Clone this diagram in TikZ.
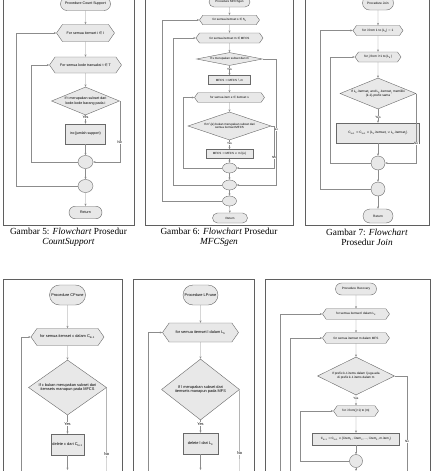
\documentclass[tikz,border=0pt]{standalone}
\usepackage{fontspec}
\setmainfont{Liberation Serif}
\newfontfamily\arialf{Liberation Sans}
\newfontfamily\symf{DejaVu Sans}
\usetikzlibrary{shapes.geometric,shapes.misc,shapes.symbols,arrows.meta}
\definecolor{fcfill}{RGB}{232,232,232}
\definecolor{fcdraw}{RGB}{105,105,105}
\definecolor{fcline}{RGB}{140,140,140}
\definecolor{frmcol}{RGB}{95,95,95}
\newcommand{\fsA}{\arialf\fontsize{3.6}{4.3}\selectfont}
\newcommand{\fsB}{\arialf\fontsize{3.0}{3.6}\selectfont}
\newcommand{\fsC}{\arialf\fontsize{3.2}{3.9}\selectfont}
\newcommand{\fsD}{\arialf\fontsize{3.9}{4.7}\selectfont}
\newcommand{\fsF}{\arialf\fontsize{3.1}{3.8}\selectfont}
\newcommand{\sy}[1]{{\symf #1}}
\newcommand{\sub}[1]{\textsubscript{#1}}
\begin{document}
\begin{tikzpicture}[x=1pt,y=-1pt,
    term/.style={draw=fcdraw, fill=fcfill, rounded rectangle, inner sep=0.5pt, line width=0.4pt},
    hexa/.style={draw=fcdraw, fill=fcfill, signal, signal to=east and west, signal pointer angle=110, inner sep=0.5pt, line width=0.4pt},
    dec/.style={draw=fcdraw, fill=fcfill, diamond, inner sep=0pt, align=center, line width=0.4pt},
    proc/.style={draw=fcdraw, fill=fcfill, rectangle, inner sep=0.5pt, line width=0.4pt},
    conn/.style={draw=fcdraw, fill=fcfill, ellipse, inner sep=0pt, line width=0.4pt},
    lbl/.style={fill=white, inner sep=0.3pt},
    arr/.style={draw=fcline, line width=0.4pt, -{Stealth[length=2.4pt,width=2pt]}},
    ln/.style={draw=fcline, line width=0.4pt},
    frm/.style={draw=frmcol, line width=0.6pt},
    captxt/.style={align=center, font=\fontsize{9.3}{10}\selectfont, inner sep=0pt}]
\useasboundingbox (0,0) rectangle (432,471);
\clip (0,0) rectangle (432,471);
\fill[white] (0,0) rectangle (432,471);

% frames
\draw[frm] (3,-5) rectangle (134,225);
\draw[frm] (145,-5) rectangle (293,225);
\draw[frm] (305,-5) rectangle (429,225);
\draw[frm] (3,279) rectangle (122,480);
\draw[frm] (133,279) rectangle (254,480);
\draw[frm] (265,279) rectangle (430,480);

% captions
\node[captxt] (capA) at (68.5,237) {Gambar 5: \textit{Flowchart} Prosedur\\\textit{CountSupport}};
\node[captxt] (capB) at (219,237) {Gambar 6: \textit{Flowchart} Prosedur\\\textit{MFCSgen}};
\node[captxt] (capC) at (367,237) {Gambar 7: \textit{Flowchart}\\Prosedur \textit{Join}};

% Gambar 5: CountSupport
\begin{scope}[font=\fsA]
\node[term, minimum width=51, minimum height=13] (tA) at (85.5,4) {Procedure Count Support};
\node[hexa, minimum width=58, minimum height=17] (hA1) at (85.5,33) {For semua itemset i \sy{∈} I};
\node[hexa, minimum width=72, minimum height=16] (hA2) at (85.5,65) {For semua kode transaksi t \sy{∈} T};
\node[dec, minimum width=68, minimum height=28, aspect=2.4] (dA) at (85.5,101) {If t merupakan subset dari\\kode-kode barang pada i};
\node[proc, minimum width=40, minimum height=20] (bA) at (85.5,134) {inc(jumlah support)};
\node[conn, minimum width=15, minimum height=13] (cA1) at (85.5,162) {};
\node[conn, minimum width=15, minimum height=13] (cA2) at (85.5,186) {};
\node[term, minimum width=34, minimum height=12.5] (rA) at (85.5,212.5) {Return};
\coordinate (lA1) at (31,65);
\coordinate (lA2) at (16,33);
\draw[arr] (tA) -- (hA1);
\draw[arr] (hA1) -- (hA2);
\draw[arr] (hA2) -- (dA);
\draw[arr] (dA) -- (bA) node[lbl, pos=0.25] (yA) {Yes};
\draw[arr] (bA) -- (cA1);
\draw[arr] (cA1) -- (cA2);
\draw[arr] (cA2) -- (rA);
\draw[arr] (dA.east) |- (cA1.east) node[lbl, pos=0.34] (nA) {No};
\draw[arr] (cA1.west) -| (lA1) -- (hA2.west);
\draw[arr] (cA2.west) -| (lA2) -- (hA1.west);
\end{scope}

% Gambar 6: MFCSgen
\begin{scope}[font=\fsB]
\node[term, minimum width=42, minimum height=10] (tB) at (229.5,2) {Procedure MFCSgen};
\node[hexa, minimum width=60, minimum height=9.5] (hB1) at (229.5,20) {for semua itemset s \sy{∈} S\sub{k}};
\node[hexa, minimum width=67, minimum height=10] (hB2) at (229.5,38) {for semua itemset m \sy{∈} MFCS};
\node[dec, minimum width=66, minimum height=13, aspect=5] (dB1) at (229.5,59) {If s merupakan subset dari m};
\node[proc, minimum width=42, minimum height=9] (bB1) at (229.5,80) {MFCS := MFCS \sy{∖} m};
\node[hexa, minimum width=70, minimum height=9.5] (hB3) at (229.5,97.5) {for semua item e \sy{∈} itemset s};
\node[dec, minimum width=83, minimum height=28, aspect=3] (dB2) at (229.5,126) {If m\sy{∖}\{e\} bukan merupakan subset dari\\semua itemset MFCS};
\node[proc, minimum width=47, minimum height=9] (bB2) at (229.5,154) {MFCS := MFCS \sy{∪} m\sy{∖}\{e\}};
\node[conn, minimum width=14, minimum height=10] (cB1) at (229.5,168) {};
\node[conn, minimum width=14, minimum height=10] (cB2) at (229.5,185) {};
\node[conn, minimum width=14, minimum height=10] (cB3) at (229.5,201) {};
\node[term, minimum width=36, minimum height=10] (rB) at (230,218) {Return};
\coordinate (lB1) at (162,20);
\coordinate (lB2) at (173,38);
\coordinate (lB3) at (183,97.5);
\coordinate (nB1) at (276,59);
\coordinate (nB2) at (274,126);
\draw[arr] (tB) -- (hB1);
\draw[arr] (hB1) -- (hB2);
\draw[arr] (hB2) -- (dB1);
\draw[arr] (dB1) -- (bB1) node[lbl, pos=0.35] (yB1) {Yes};
\draw[arr] (bB1) -- (hB3);
\draw[arr] (hB3) -- (dB2);
\draw[arr] (dB2) -- (bB2) node[lbl, pos=0.4] (yB2) {Yes};
\draw[arr] (bB2) -- (cB1);
\draw[arr] (cB1) -- (cB2);
\draw[arr] (cB2) -- (cB3);
\draw[arr] (cB3) -- (rB);
\draw[arr] (dB1.east) -- (nB1) |- (cB2.east) node[lbl, pos=0.28] (nB1t) {No};
\draw[arr] (dB2.east) -- (nB2) |- (cB1.east) node[lbl, pos=0.38] (nB2t) {No};
\draw[arr] (cB1.west) -| (lB3) -- (hB3.west);
\draw[arr] (cB2.west) -| (lB2) -- (hB2.west);
\draw[arr] (cB3.west) -| (lB1) -- (hB1.west);
\end{scope}

% Gambar 7: Join
\begin{scope}[font=\fsC]
\node[term, minimum width=32, minimum height=14] (tC) at (378,3) {Procedure Join};
\node[hexa, minimum width=50, minimum height=10] (hC1) at (378,30.5) {for i from 1 to |L\sub{k}| \sy{−} 1};
\node[hexa, minimum width=46, minimum height=10] (hC2) at (378,57) {for j from i+1 to |L\sub{k}|};
\node[dec, minimum width=76, minimum height=31, aspect=2.45] (dC) at (378,93.5) {If L\sub{k}.itemset\sub{i} and L\sub{k}.itemset\sub{j} memiliki\\(k-1)-prefix sama};
\node[proc, minimum width=83, minimum height=20] (bC) at (378,133) {C\sub{k+1} := C\sub{k+1} \sy{∪} \{L\sub{k}.itemset\sub{i} \sy{∪} L\sub{k}.itemset\sub{j}\}};
\node[conn, minimum width=14, minimum height=14] (cC1) at (378,163) {};
\node[conn, minimum width=14, minimum height=14] (cC2) at (378,189) {};
\node[term, minimum width=31, minimum height=14] (rC) at (378,216) {Return};
\coordinate (lC1) at (320,30.5);
\coordinate (lC2) at (330,57);
\draw[arr] (tC) -- (hC1);
\draw[arr] (hC1) -- (hC2);
\draw[arr] (hC2) -- (dC);
\draw[arr] (dC) -- (bC) node[lbl, pos=0.57] (yC) {Yes};
\draw[arr] (bC) -- (cC1);
\draw[arr] (cC1) -- (cC2);
\draw[arr] (cC2) -- (rC);
\draw[arr] (dC.east) |- (cC1.east) node[lbl, pos=0.36] (nC) {No};
\draw[arr] (cC1.west) -| (lC2) -- (hC2.west);
\draw[arr] (cC2.west) -| (lC1) -- (hC1.west);
\end{scope}

% CPrune
\begin{scope}[font=\fsD]
\node[term, minimum width=37, minimum height=20] (tD) at (67.5,295) {Procedure CPrune};
\node[hexa, minimum width=73, minimum height=17] (hD) at (67.5,337) {for semua itemset c dalam C\sub{k+1}};
\node[dec, minimum width=78, minimum height=55, aspect=1.4] (dD) at (67.5,387.5) {If c bukan merupakan subset dari\\itemsets manapun pada MFCS};
\node[proc, minimum width=33, minimum height=21] (bD) at (67.5,444.5) {delete c dari C\sub{k+1}};
\coordinate (oD) at (67.5,470);
\coordinate (lD0) at (21,480);
\coordinate (lD1) at (21,337);
\coordinate (nD) at (106.5,480);
\draw[arr] (tD) -- (hD);
\draw[arr] (hD) -- (dD);
\draw[arr] (dD) -- (bD) node[lbl, pos=0.47] (yD) {Yes};
\draw[arr] (bD) -- (oD);
\draw[ln] (dD.east) -- (nD) node[lbl, pos=0.72] (nDt) {No};
\draw[arr] (lD0) -- (lD1) -- (hD.west);
\end{scope}

% LPrune
\begin{scope}[font=\fsD]
\node[term, minimum width=36, minimum height=20] (tE) at (200.5,295) {Procedure LPrune};
\node[hexa, minimum width=76, minimum height=19] (hE) at (200.5,332.5) {for semua itemset l dalam L\sub{k}};
\node[dec, minimum width=78, minimum height=61, aspect=1.28] (dE) at (200.5,389.5) {If l merupakan subset dari\\itemsets manapun pada MFS};
\node[proc, minimum width=35, minimum height=21] (bE) at (200.5,443.5) {delete l dari L\sub{k}};
\coordinate (oE) at (200.5,470);
\coordinate (lE0) at (148,480);
\coordinate (lE1) at (148,332.5);
\coordinate (nE) at (239.5,480);
\draw[arr] (tE) -- (hE);
\draw[arr] (hE) -- (dE);
\draw[arr] (dE) -- (bE) node[lbl, pos=0.3] (yE) {Yes};
\draw[arr] (bE) -- (oE);
\draw[ln] (dE.east) -- (nE) node[lbl, pos=0.7] (nEt) {No};
\draw[arr] (lE0) -- (lE1) -- (hE.west);
\end{scope}

% Recovery
\begin{scope}[font=\fsF]
\node[term, minimum width=42, minimum height=12] (tF) at (356,289) {Procedure Recovery};
\node[hexa, minimum width=67, minimum height=10.5] (hF1) at (356,314) {for semua itemset l dalam L\sub{k}};
\node[hexa, minimum width=67, minimum height=10.5] (hF2) at (356,338) {for semua itemset m dalam MFS};
\node[dec, minimum width=77, minimum height=38, aspect=2] (dF) at (356,376) {If prefix k-1 items dalam l juga ada\\di prefix k-1 items dalam m};
\node[hexa, minimum width=45, minimum height=10.5] (hF3) at (356,411) {for i from(j+1) to |m|};
\node[proc, minimum width=87, minimum height=12] (bF) at (356,439) {C\sub{k+1} := C\sub{k+1} \sy{∪} \{l.item\sub{1}, l.item\sub{2}, ..., l.item\sub{k}, m.item\sub{j}\}};
\node[conn, minimum width=13, minimum height=13] (cF) at (356,461) {};
\coordinate (oF) at (356,471);
\coordinate (lF0) at (280,480);
\coordinate (lF1) at (280,314);
\coordinate (lF2) at (290,480);
\coordinate (lF3) at (290,338);
\coordinate (lF4) at (300,411);
\coordinate (nF0) at (407,376);
\coordinate (nF1) at (407,480);
\draw[arr] (tF) -- (hF1);
\draw[arr] (hF1) -- (hF2);
\draw[arr] (hF2) -- (dF);
\draw[arr] (dF) -- (hF3) node[lbl, pos=0.27] (yF) {Yes};
\draw[arr] (hF3) -- (bF);
\draw[arr] (bF) -- (cF);
\draw[arr] (cF) -- (oF);
\draw[ln] (dF.east) -- (nF0) -- (nF1) node[lbl, pos=0.63] (nFt) {No};
\draw[arr] (cF.west) -| (lF4) -- (hF3.west);
\draw[arr] (lF0) -- (lF1) -- (hF1.west);
\draw[arr] (lF2) -- (lF3) -- (hF2.west);
\end{scope}
\end{tikzpicture}
\end{document}
